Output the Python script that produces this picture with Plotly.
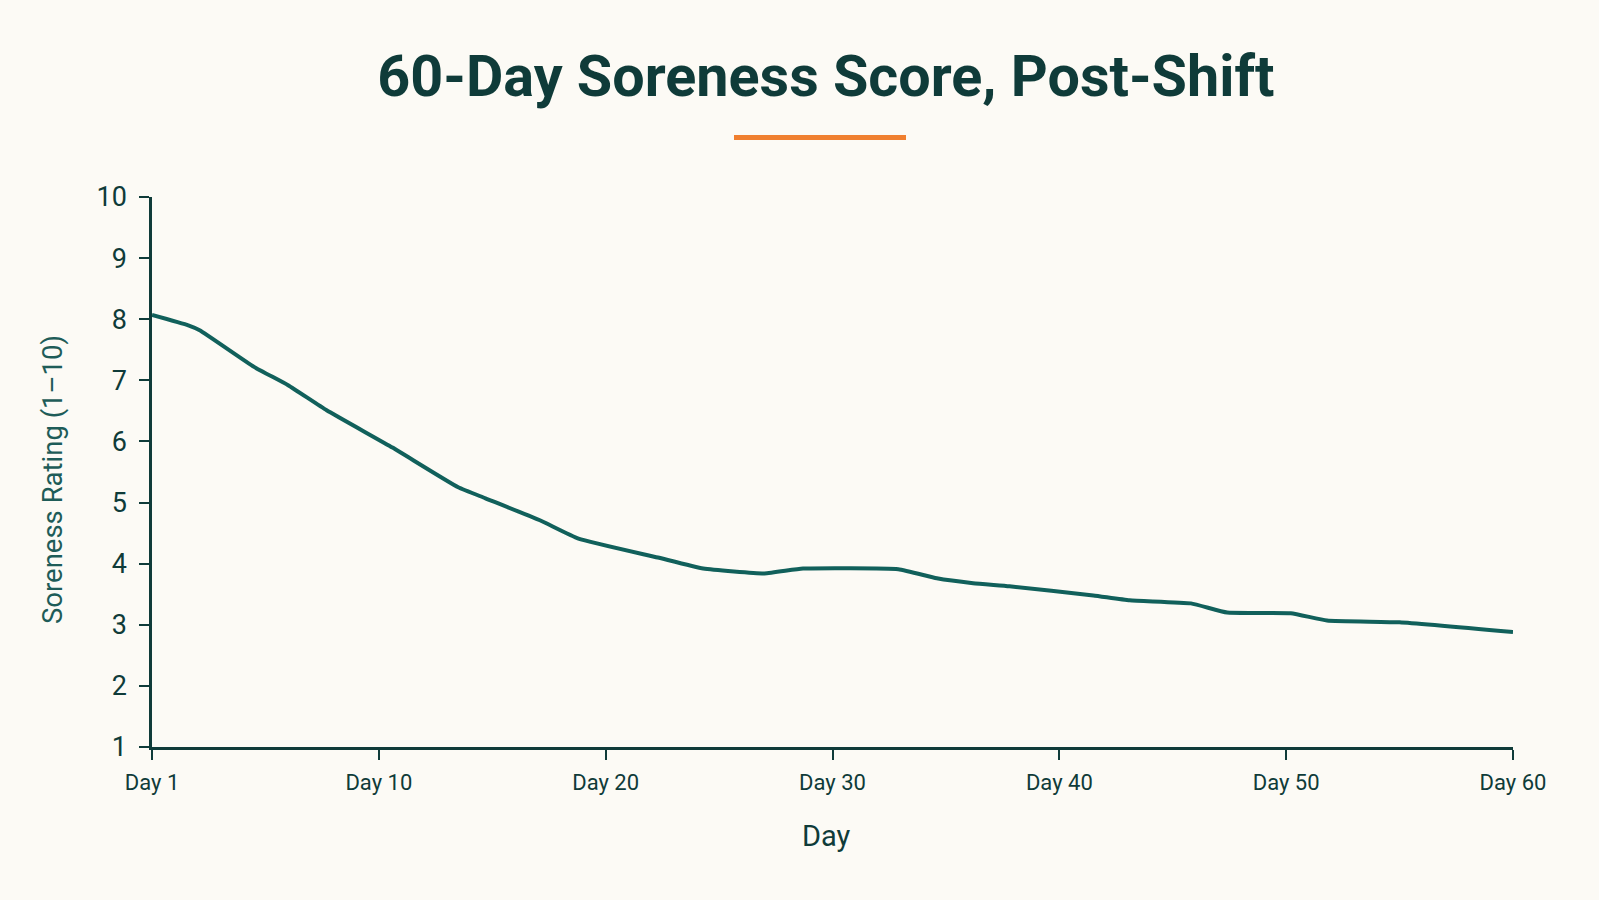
import plotly.graph_objects as go

# Data (x on a 0–60 day scale, left edge = Day 1)
day_pos = [0, 1.6, 2.1, 4.5, 6.0, 7.7, 10.6, 13.5, 14.7, 17.1, 18.8, 22.3, 24.3, 27.0,
           28.7, 32.9, 34.6, 36.2, 37.8, 41.5, 43.1, 45.8, 47.4, 50.2, 51.8, 55.0, 60]
soreness = [8.07, 7.90, 7.82, 7.22, 6.92, 6.51, 5.90, 5.25, 5.07, 4.71, 4.41, 4.10, 3.92, 3.84,
            3.92, 3.91, 3.76, 3.68, 3.63, 3.48, 3.40, 3.35, 3.20, 3.19, 3.07, 3.04, 2.88]

tick_vals = [0, 10, 20, 30, 40, 50, 60]
tick_text = ["Day 1", "Day 10", "Day 20", "Day 30", "Day 40", "Day 50", "Day 60"]
y_ticks = [1, 2, 3, 4, 5, 6, 7, 8, 9, 10]

BG = "#FCFAF5"
DARK = "#0F3B39"
LINE = "#11605B"
FONT = "Roboto, sans-serif"

fig = go.Figure()
fig.add_trace(go.Scatter(
    x=day_pos, y=soreness, mode="lines",
    line=dict(color=LINE, width=4, shape="spline", smoothing=0.4),
    hoverinfo="skip", showlegend=False,
))

fig.update_layout(
    width=1599, height=900,
    paper_bgcolor=BG, plot_bgcolor=BG,
    margin=dict(l=152, r=86, t=197, b=153),
    title=dict(text="<b>60-Day Soreness Score, Post-Shift</b>",
               x=0.5165, xanchor="center", y=0.916, yanchor="middle",
               font=dict(family=FONT, size=57.5, color=DARK)),
    font=dict(family=FONT, color=DARK),
    xaxis=dict(range=[0, 60], tickvals=tick_vals, ticktext=tick_text,
               showgrid=False, zeroline=False, showline=True, linecolor=DARK, linewidth=2.5,
               ticks="outside", ticklen=10, tickwidth=2, tickcolor=DARK,
               tickfont=dict(size=22, color=DARK), ticklabelstandoff=4),
    yaxis=dict(range=[1, 10], tickvals=y_ticks,
               showgrid=False, zeroline=False, showline=True, linecolor=DARK, linewidth=2.5,
               ticks="outside", ticklen=10, tickwidth=2, tickcolor=DARK,
               tickfont=dict(size=27, color=DARK), ticklabelstandoff=7),
    annotations=[
        dict(text="Day", xref="paper", yref="paper",
             x=(826 - 152) / 1361, y=-(836 - 747) / 550, xanchor="center", yanchor="middle",
             showarrow=False, font=dict(size=29, color=DARK)),
        dict(text="Soreness Rating (1–10)", xref="paper", yref="paper", textangle=-90,
             x=-(152 - 52) / 1361, y=(747 - 480) / 550, xanchor="center", yanchor="middle",
             showarrow=False, font=dict(size=27.5, color="#1E5C58")),
    ],
    shapes=[dict(type="line", xref="paper", yref="paper",
                 x0=(734 - 152) / 1361, x1=(906 - 152) / 1361,
                 y0=(900 - 153 - 137.5) / 550, y1=(900 - 153 - 137.5) / 550,
                 line=dict(color="#F07F2F", width=5))],
)

fig.write_html("out.html")
